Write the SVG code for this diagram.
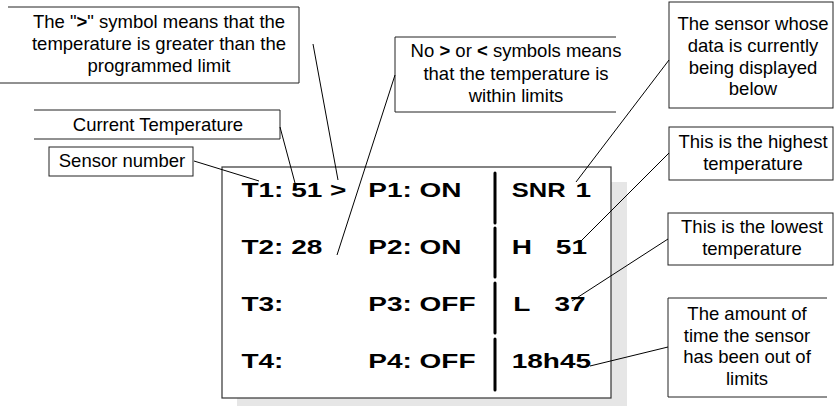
<svg xmlns="http://www.w3.org/2000/svg" width="835" height="406" viewBox="0 0 835 406">
<style>
.c{font-family:"Liberation Sans",Arial,sans-serif;font-size:18.5px;fill:#000;text-anchor:middle}
.d{font-family:"Liberation Sans",Arial,sans-serif;font-size:21px;font-weight:bold;fill:#000}
.b{fill:#fff;stroke:#222;stroke-width:1}
.o{fill:none;stroke:#222;stroke-width:1}
.l{stroke:#000;stroke-width:1;fill:none}
.bar{stroke:#000;stroke-width:3;stroke-linecap:round}
</style>
<rect width="835" height="406" fill="#fff"/>
<g id="display">
<rect x="237" y="182" width="390" height="231" fill="#e6e6e6"/>
<rect x="222" y="167" width="389" height="231" fill="#fff" stroke="#333" stroke-width="1.2"/>
<g transform="scale(1.3333,1)">
<text class="d" x="181.1" y="197.5">T1: 51 &gt;</text>
<text class="d" x="276.2" y="197.5">P1: ON</text>
<text class="d" x="383.8" y="197.5" textLength="40.4" lengthAdjust="spacingAndGlyphs">SNR</text>
<text class="d" x="431.6" y="197.5">1</text>
<text class="d" x="181.1" y="254">T2: 28</text>
<text class="d" x="276.2" y="254">P2: ON</text>
<text class="d" x="383.8" y="254">H</text>
<text class="d" x="416.9" y="254">51</text>
<text class="d" x="181.1" y="311">T3:</text>
<text class="d" x="276.2" y="311">P3: OFF</text>
<text class="d" x="384.9" y="311">L</text>
<text class="d" x="415.9" y="311">37</text>
<text class="d" x="181.1" y="368">T4:</text>
<text class="d" x="276.2" y="368">P4: OFF</text>
<text class="d" x="383.8" y="368">18h45</text>
</g>
<line class="bar" x1="495" y1="173" x2="495" y2="223"/>
<line class="bar" x1="495" y1="228" x2="495" y2="277"/>
<line class="bar" x1="495" y1="283" x2="495" y2="333"/>
<line class="bar" x1="495" y1="339" x2="495" y2="390"/>
</g>
<g id="callout-greater">
<path class="o" d="M8,7H299V83H0"/>
<text class="c" x="159" y="28">The "<tspan font-weight="bold">&gt;</tspan>" symbol means that the</text>
<text class="c" x="159" y="50">temperature is greater than the</text>
<text class="c" x="159" y="72">programmed limit</text>
</g>
<g id="callout-current">
<path class="o" d="M34,110H280V139H34"/>
<text class="c" x="158" y="131">Current Temperature</text>
</g>
<g id="callout-sensor">
<rect class="b" x="49" y="147" width="144" height="29"/>
<text class="c" x="122" y="167">Sensor number</text>
</g>
<g id="callout-within">
<path class="o" d="M616,37H395V112H616"/>
<text class="c" x="516" y="57">No <tspan font-weight="bold">&gt;</tspan> or <tspan font-weight="bold">&lt;</tspan> symbols means</text>
<text class="c" x="516" y="79.5">that the temperature is</text>
<text class="c" x="516" y="102">within limits</text>
</g>
<g id="callout-snr">
<rect class="b" x="669" y="2" width="164" height="106"/>
<text class="c" x="753" y="29.5">The sensor whose</text>
<text class="c" x="753" y="51.5">data is currently</text>
<text class="c" x="753" y="73.5">being displayed</text>
<text class="c" x="753" y="95">below</text>
</g>
<g id="callout-high">
<rect class="b" x="669" y="127" width="164" height="53"/>
<text class="c" x="753" y="148">This is the highest</text>
<text class="c" x="753" y="170">temperature</text>
</g>
<g id="callout-low">
<rect class="b" x="668" y="213" width="165" height="52"/>
<text class="c" x="752" y="233">This is the lowest</text>
<text class="c" x="752" y="255">temperature</text>
</g>
<g id="callout-time">
<path class="o" d="M827,298H668V397H827"/>
<text class="c" x="747" y="320">The amount of</text>
<text class="c" x="747" y="342">time the sensor</text>
<text class="c" x="747" y="363">has been out of</text>
<text class="c" x="747" y="385">limits</text>
</g>
<g id="connectors">
<line class="l" x1="194" y1="161" x2="259" y2="181"/>
<line class="l" x1="280" y1="127" x2="295" y2="183"/>
<line class="l" x1="313" y1="44" x2="338" y2="180"/>
<line class="l" x1="395" y1="75" x2="337" y2="255"/>
<line class="l" x1="669" y1="60" x2="576" y2="182"/>
<line class="l" x1="669" y1="153" x2="580" y2="242"/>
<line class="l" x1="668" y1="239" x2="572" y2="301"/>
<line class="l" x1="668" y1="347" x2="590" y2="366"/>
</g>
</svg>
